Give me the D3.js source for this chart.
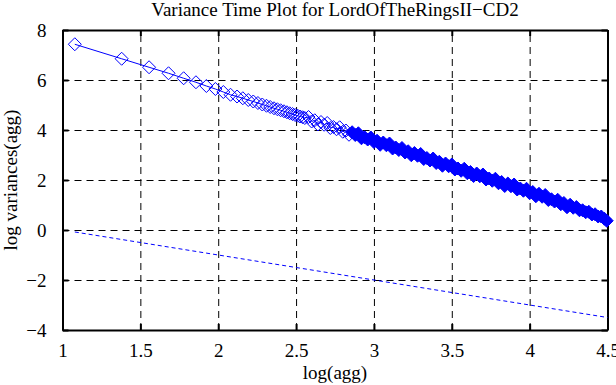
<!DOCTYPE html>
<html>
<head>
<meta charset="utf-8">
<script src="https://cdn.jsdelivr.net/npm/d3@7"></script>
<style>
  body { margin: 0; background: #fff; }
  text { font-family: "Liberation Serif", "Times New Roman", serif; fill: #000; }
</style>
</head>
<body>
<div id="chart"></div>
<script>
// log(agg) values of the aggregation levels and the log variance measured at each
var aggLog = [
  1.079, 1.380, 1.556, 1.681, 1.778, 1.857, 1.924, 1.982, 2.033, 2.079,
  2.121, 2.158, 2.193, 2.225, 2.255, 2.283, 2.310, 2.334, 2.358, 2.380,
  2.401, 2.422, 2.441, 2.459, 2.477, 2.494, 2.511, 2.526, 2.542, 2.556,
  2.58, 2.60, 2.62, 2.64, 2.66, 2.68, 2.70, 2.72, 2.74, 2.76,
  2.78, 2.80, 2.82, 2.84, 2.86, 2.88, 2.90, 2.92, 2.94, 2.96,
  2.98, 3.00, 3.02, 3.04, 3.06, 3.08, 3.10, 3.12, 3.14, 3.16,
  3.18, 3.20, 3.22, 3.24, 3.26, 3.28, 3.30, 3.32, 3.34, 3.36,
  3.38, 3.40, 3.42, 3.44, 3.46, 3.48, 3.50, 3.52, 3.54, 3.56,
  3.58, 3.60, 3.62, 3.64, 3.66, 3.68, 3.70, 3.72, 3.74, 3.76,
  3.78, 3.80, 3.82, 3.84, 3.86, 3.88, 3.90, 3.92, 3.94, 3.96,
  3.98, 4.00, 4.02, 4.04, 4.06, 4.08, 4.10, 4.12, 4.14, 4.16,
  4.18, 4.20, 4.22, 4.24, 4.26, 4.28, 4.30, 4.32, 4.34, 4.36,
  4.38, 4.40, 4.42, 4.44, 4.46, 4.48, 4.495
];
var logVar = [
  7.43, 6.85, 6.51, 6.27, 6.07, 5.91, 5.76, 5.64, 5.52, 5.41,
  5.34, 5.27, 5.20, 5.14, 5.08, 5.02, 4.97, 4.92, 4.87, 4.83,
  4.79, 4.75, 4.71, 4.67, 4.64, 4.60, 4.57, 4.54, 4.51, 4.48,
  4.52, 4.34, 4.39, 4.22, 4.32, 4.21, 4.28, 4.08, 4.12, 4.03,
  4.11, 3.93, 3.98, 3.81, 3.91, 3.80, 3.87, 3.67, 3.71, 3.62,
  3.70, 3.52, 3.57, 3.41, 3.50, 3.39, 3.46, 3.26, 3.30, 3.20,
  3.28, 3.10, 3.15, 2.99, 3.08, 2.97, 3.04, 2.84, 2.88, 2.78,
  2.86, 2.68, 2.73, 2.57, 2.66, 2.55, 2.62, 2.42, 2.46, 2.37,
  2.45, 2.27, 2.32, 2.16, 2.26, 2.15, 2.22, 2.02, 2.06, 1.97,
  2.05, 1.87, 1.92, 1.76, 1.86, 1.75, 1.82, 1.62, 1.66, 1.57,
  1.65, 1.47, 1.52, 1.35, 1.45, 1.33, 1.40, 1.20, 1.23, 1.14,
  1.21, 1.03, 1.08, 0.91, 1.01, 0.89, 0.92, 0.79, 0.79, 0.71,
  0.73, 0.62, 0.63, 0.54, 0.54, 0.45, 0.37
];

// slope -1 reference line
var refLog = [1.079, 4.5];
var refVar = [-0.079, -3.5];

var xTicks = [1, 1.5, 2, 2.5, 3, 3.5, 4, 4.5];
var yTicks = [-4, -2, 0, 2, 4, 6, 8];

var svgWidth = 616;
var svgHeight = 385;
var margin = { top: 30, right: 8.5, bottom: 55, left: 62.5 };
var width = svgWidth - margin.left - margin.right;
var height = svgHeight - margin.top - margin.bottom;

var svg = d3.select("#chart")
  .append("svg")
  .attr("width", svgWidth)
  .attr("height", svgHeight);

var chartGroup = svg.append("g")
  .attr("transform", `translate(${margin.left}, ${margin.top})`);

var xScale = d3.scaleLinear().domain([1, 4.5]).range([0, width]);
var yScale = d3.scaleLinear().domain([-4, 8]).range([height, 0]);

var fmt = d => String(d).replace("-", "\u2212");

// dashed grid
chartGroup.append("g")
  .attr("class", "grid")
  .attr("transform", `translate(0, ${height})`)
  .call(d3.axisBottom(xScale).tickValues(xTicks).tickSize(-height).tickFormat(""));
chartGroup.append("g")
  .attr("class", "grid")
  .call(d3.axisLeft(yScale).tickValues(yTicks).tickSize(-width).tickFormat(""));
chartGroup.selectAll(".grid .domain").remove();
chartGroup.selectAll(".grid line")
  .attr("stroke", "#000")
  .attr("stroke-width", 1)
  .attr("stroke-dasharray", "7,5");

// frame with inward ticks on all sides
var bottomAxis = chartGroup.append("g")
  .attr("transform", `translate(0, ${height})`)
  .call(d3.axisBottom(xScale).tickValues(xTicks).tickSizeInner(-6).tickSizeOuter(0).tickPadding(14).tickFormat(fmt));
var topAxis = chartGroup.append("g")
  .call(d3.axisTop(xScale).tickValues(xTicks).tickSizeInner(-6).tickSizeOuter(0).tickFormat(""));
var leftAxis = chartGroup.append("g")
  .call(d3.axisLeft(yScale).tickValues(yTicks).tickSizeInner(-6).tickSizeOuter(0).tickPadding(16).tickFormat(fmt));
var rightAxis = chartGroup.append("g")
  .attr("transform", `translate(${width}, 0)`)
  .call(d3.axisRight(yScale).tickValues(yTicks).tickSizeInner(-6).tickSizeOuter(0).tickFormat(""));

[bottomAxis, topAxis, leftAxis, rightAxis].forEach(function(ax) {
  ax.select(".domain").attr("stroke", "#000").attr("stroke-width", 2);
  ax.selectAll(".tick line").attr("stroke", "#000").attr("stroke-width", 2);
  ax.selectAll("text")
    .attr("font-family", "Liberation Serif, serif")
    .attr("font-size", 19)
    .attr("fill", "#000");
});

// data line + diamonds
var points = aggLog.map((d, i) => ({ x: d, y: logVar[i] }));

var line = d3.line()
  .x(d => xScale(d.x))
  .y(d => yScale(d.y));

chartGroup.append("path")
  .datum(points)
  .attr("d", line)
  .attr("fill", "none")
  .attr("stroke", "#0000ff")
  .attr("stroke-width", 1);

var diamond = "M0,-6.5L6.5,0L0,6.5L-6.5,0Z";
chartGroup.selectAll(".pt")
  .data(points)
  .enter()
  .append("path")
  .attr("class", "pt")
  .attr("d", diamond)
  .attr("transform", d => `translate(${xScale(d.x)}, ${yScale(d.y)})`)
  .attr("fill", d => d.x >= 2.86 ? "#0000ff" : "none")
  .attr("stroke", "#0000ff")
  .attr("stroke-width", 1);

// reference line
var refPoints = refLog.map((d, i) => ({ x: d, y: refVar[i] }));
chartGroup.append("path")
  .datum(refPoints)
  .attr("d", line)
  .attr("fill", "none")
  .attr("stroke", "#0000ff")
  .attr("stroke-width", 1)
  .attr("stroke-dasharray", "4,3");

// title and axis labels
svg.append("text")
  .attr("x", margin.left + width / 2)
  .attr("y", 16)
  .attr("text-anchor", "middle")
  .attr("font-size", 19)
  .text("Variance Time Plot for LordOfTheRingsII\u2212CD2");

svg.append("text")
  .attr("x", margin.left + width / 2)
  .attr("y", 379)
  .attr("text-anchor", "middle")
  .attr("font-size", 19)
  .text("log(agg)");

svg.append("text")
  .attr("transform", "rotate(-90)")
  .attr("x", -(margin.top + height / 2))
  .attr("y", 17)
  .attr("text-anchor", "middle")
  .attr("font-size", 19)
  .text("log variances(agg)");
</script>
</body>
</html>
